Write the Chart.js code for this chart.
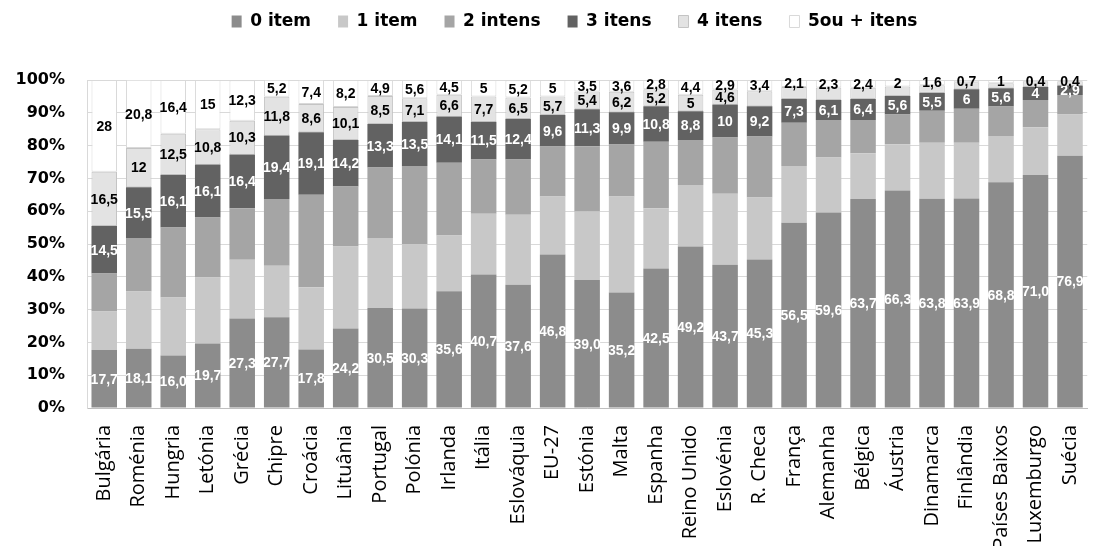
<!DOCTYPE html>
<html>
<head>
<meta charset="utf-8">
<script src="https://cdn.jsdelivr.net/npm/chart.js@4"></script>
<style>
  html, body { margin: 0; padding: 0; background: #fff; overflow: hidden; }
  .wrap { width: 1111px; height: 546px; }
</style>
</head>
<body>
<div class="wrap"><canvas class="items-chart"></canvas></div>
<script>
//DATA..
const countries = ["Bulgária","Roménia","Hungria","Letónia","Grécia","Chipre","Croácia","Lituânia","Portugal","Polónia","Irlanda","Itália","Eslováquia","EU-27","Estónia","Malta","Espanha","Reino Unido","Eslovénia","R. Checa","França","Alemanha","Bélgica","Áustria","Dinamarca","Finlândia","Países Baixos","Luxemburgo","Suécia"];

const item0 = [17.7,18.1,16.0,19.7,27.3,27.7,17.8,24.2,30.5,30.3,35.6,40.7,37.6,46.8,39.0,35.2,42.5,49.2,43.7,45.3,56.5,59.6,63.7,66.3,63.8,63.9,68.8,71.0,76.9];
const item1 = [11.7,17.4,17.7,20.1,17.9,15.7,19.0,25.0,21.3,19.6,17.0,18.5,21.3,17.7,20.9,29.3,18.4,18.8,21.6,18.9,17.3,16.8,14.0,14.1,17.1,17.0,14.1,14.6,12.6];
const item2 = [11.6,16.3,21.3,18.3,15.7,20.3,28.2,18.3,21.5,23.9,22.2,16.6,16.9,15.2,19.9,15.8,20.3,13.7,17.2,18.6,13.2,11.4,10.1,9.1,9.7,10.3,9.0,8.3,5.9];
const item3 = [14.5,15.5,16.1,16.1,16.4,19.4,19.1,14.2,13.3,13.5,14.1,11.5,12.4,9.6,11.3,9.9,10.8,8.8,10,9.2,7.3,6.1,6.4,5.6,5.5,6,5.6,4,2.9];
const item4 = [16.5,12,12.5,10.8,10.3,11.8,8.6,10.1,8.5,7.1,6.6,7.7,6.5,5.7,5.4,6.2,5.2,5,4.6,4.6,3.6,3.8,3.4,2.9,2.3,2.1,1.5,1.7,1.3];
const item5 = [28,20.8,16.4,15,12.3,5.2,7.4,8.2,4.9,5.6,4.5,5,5.2,5,3.5,3.6,2.8,4.4,2.9,3.4,2.1,2.3,2.4,2,1.6,0.7,1,0.4,0.4];

// bars where the "4 itens" value is not printed
const noLabel4 = ["R. Checa","França","Alemanha","Bélgica","Áustria","Dinamarca","Finlândia","Países Baixos","Luxemburgo","Suécia"];

const yTicks = [0,10,20,30,40,50,60,70,80,90,100];

//value labels inside the bars
const barLabels = {
  id: "barLabels",
  afterDatasetsDraw(chart) {
    const ctx = chart.ctx;
    ctx.save();
    ctx.font = "bold 14px 'Liberation Sans', Arial, sans-serif";
    ctx.textAlign = "center";
    ctx.textBaseline = "middle";
    chart.data.datasets.forEach((ds, i) => {
      if (!ds.labelColor) return;
      chart.getDatasetMeta(i).data.forEach((bar, j) => {
        if (ds.label === "4 itens" && noLabel4.includes(countries[j])) return;
        const v = ds.data[j];
        const txt = (ds.decimals ? v.toFixed(1) : String(v)).replace(".", ",");
        ctx.fillStyle = ds.labelColor;
        ctx.fillText(txt, bar.x, (bar.y + bar.base) / 2 + 1);
      });
    });
    ctx.restore();
  }
};

//fixed legend height so the plot starts where it should, legend a bit to the right
const legendHeight = {
  id: "legendHeight",
  beforeInit(chart) {
    const fit = chart.legend.fit;
    chart.legend.fit = function () {
      fit.bind(chart.legend)();
      this.height = 94;
    };
  },
  afterLayout(chart) {
    chart.legend.left += 19;
    chart.legend.right += 19;
  }
};

const ctx = document.querySelector(".items-chart");

new Chart(ctx, {
  type: "bar",
  data: {
    labels: countries,
    datasets: [
      { label: "0 item", data: item0, backgroundColor: "#8c8c8c", labelColor: "#ffffff", decimals: true },
      { label: "1 item", data: item1, backgroundColor: "#c8c8c8" },
      { label: "2 intens", data: item2, backgroundColor: "#a5a5a5" },
      { label: "3 itens", data: item3, backgroundColor: "#626262", labelColor: "#ffffff" },
      { label: "4 itens", data: item4, backgroundColor: "#e3e3e3", borderColor: "#c4c4c4", borderWidth: 1, borderSkipped: false, labelColor: "#000000" },
      { label: "5ou + itens", data: item5, backgroundColor: "#ffffff", borderColor: "#d9d9d9", borderWidth: 1, borderSkipped: false, labelColor: "#000000" }
    ]
  },
  options: {
    responsive: true,
    maintainAspectRatio: false,
    animation: false,
    layout: { padding: { top: -14, left: 0, right: 0, bottom: 0 } },
    datasets: {
      bar: { barPercentage: 0.74, categoryPercentage: 1 }
    },
    plugins: {
      tooltip: { enabled: false },
      legend: {
        position: "top",
        labels: {
          color: "#000",
          boxWidth: 10,
          boxHeight: 12,
          padding: 27,
          font: { family: "'DejaVu Sans', sans-serif", size: 17, weight: "bold" }
        }
      }
    },
    scales: {
      x: {
        stacked: true,
        grid: { display: false, drawTicks: false },
        border: { color: "#bfbfbf" },
        afterFit(scale) { scale.height = 138; },
        ticks: {
          color: "#000",
          minRotation: 90,
          maxRotation: 90,
          autoSkip: false,
          padding: 17,
          font: { family: "'Open Sans', sans-serif", size: 20 }
        }
      },
      y: {
        stacked: true,
        min: 0,
        max: 100,
        afterFit(scale) { scale.width = 87; },
        afterBuildTicks(scale) { scale.ticks = yTicks.map(v => ({ value: v })); },
        grid: { color: "#d9d9d9", drawTicks: false },
        border: { color: "#d9d9d9" },
        ticks: {
          color: "#000",
          padding: 22,
          callback: v => v + "%",
          font: { family: "'DejaVu Sans', sans-serif", size: 16, weight: "bold" }
        }
      }
    }
  },
  plugins: [barLabels, legendHeight]
});
</script>
</body>
</html>
